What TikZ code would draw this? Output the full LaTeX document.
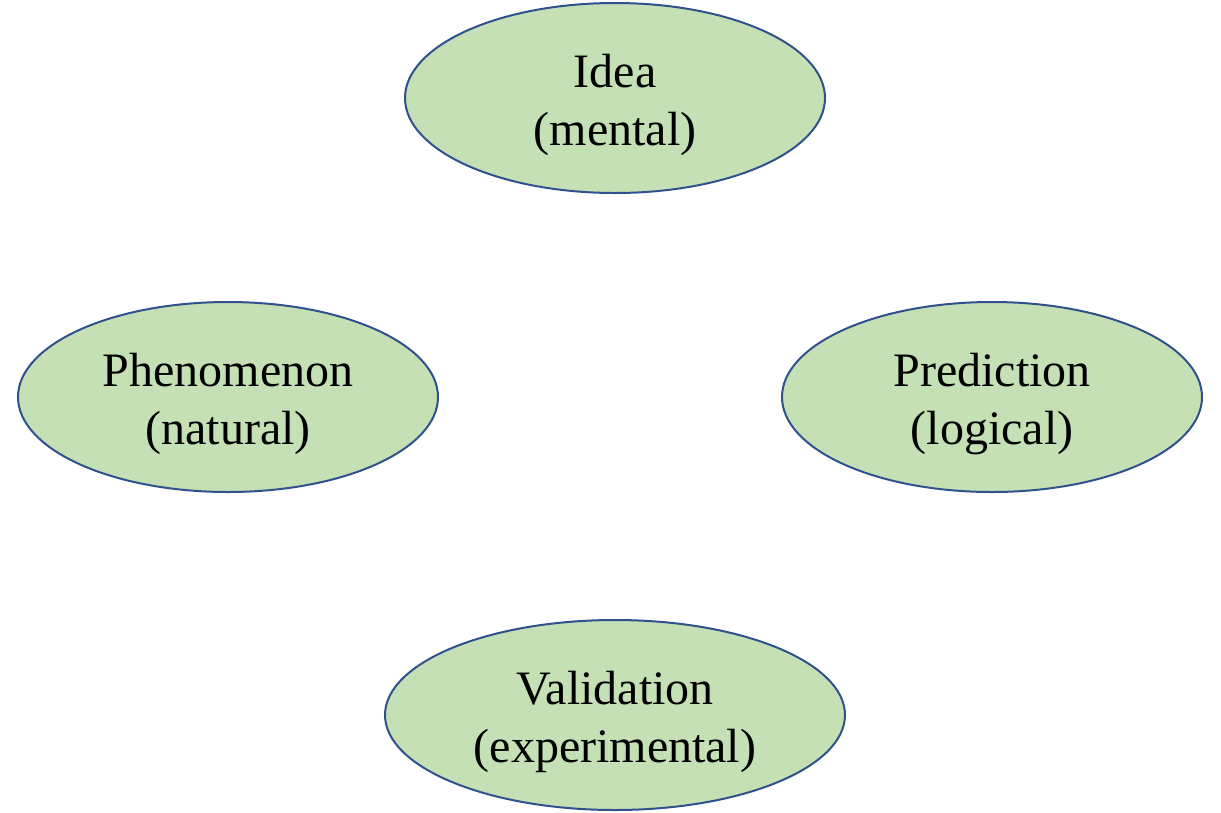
\documentclass[tikz,border=0pt]{standalone}
\usepackage{fontspec}
\setmainfont{Liberation Serif}
\usetikzlibrary{shapes.geometric}
\definecolor{efill}{HTML}{C5E0B4}
\definecolor{eline}{HTML}{2F528F}
\begin{document}
\begin{tikzpicture}[x=1pt,y=-1pt,
  oval/.style={ellipse, draw=eline, fill=efill, line width=2pt, inner sep=0pt,
    minimum width=420pt, minimum height=190pt},
  lbl/.style={align=center, inner sep=0pt, font=\fontsize{48}{58}\selectfont}]
\useasboundingbox (0,0) rectangle (1221,812);
\node[oval] (idea) at (615,98) {};
\node[oval] (phen) at (228,397) {};
\node[oval] (pred) at (992,397) {};
\node[oval, minimum width=460pt] (valid) at (615,715) {};
\node[lbl] (ideat) at ([yshift=-7pt]idea.center) {Idea\\(mental)};
\node[lbl] (phent) at ([yshift=-7pt]phen.center) {Phenomenon\\(natural)};
\node[lbl] (predt) at ([yshift=-7pt]pred.center) {Prediction\\(logical)};
\node[lbl] (validt) at ([yshift=-7pt]valid.center) {Validation\\(experimental)};
\end{tikzpicture}
\end{document}
